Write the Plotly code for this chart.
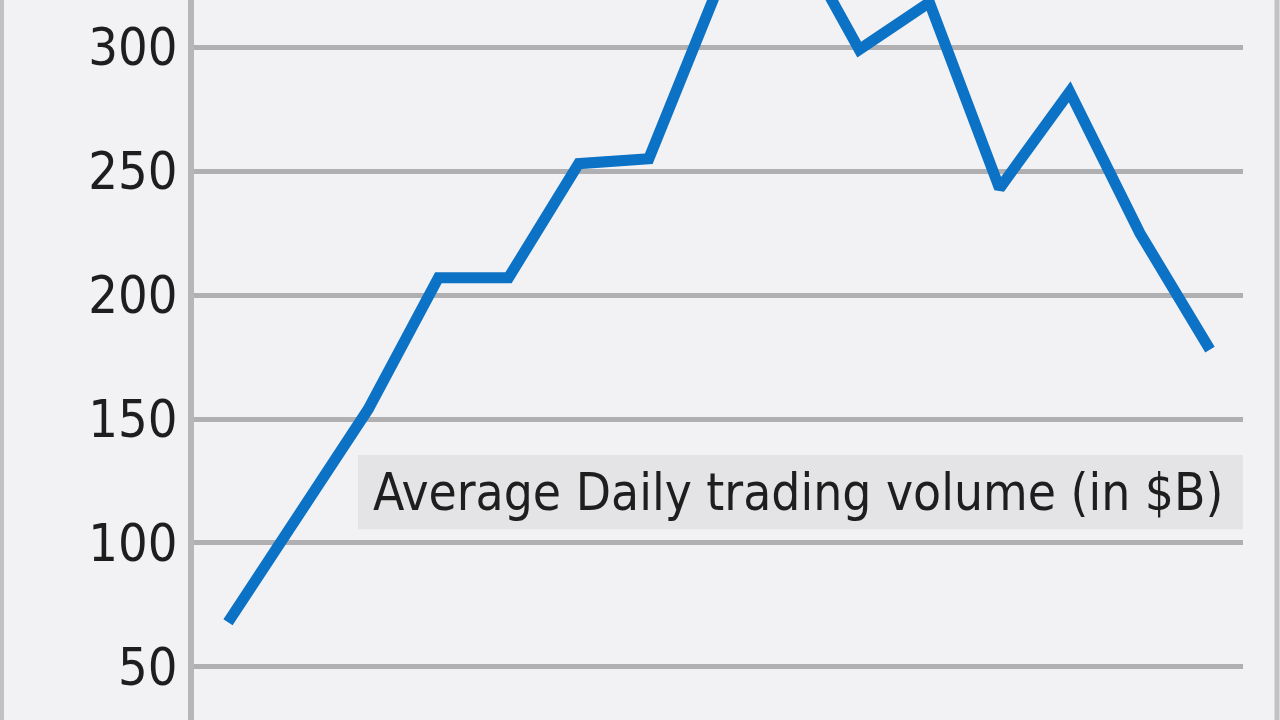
import plotly.graph_objects as go

# ── data ────────────────────────────────────────────────────
periods = list(range(15))
volume = [68, 112, 154, 207, 207, 253, 255, 325, 350, 299, 318, 243, 282, 225, 178]
y_ticks = [50, 100, 150, 200, 250, 300]
label_text = "Average Daily trading volume (in $B)"

BG = "#f2f2f4"
GRID = "#b0b0b2"
BLUE = "#0b72c5"
FONT = "Liberation Sans Narrow, Arial Narrow, DejaVu Sans Condensed, sans-serif"

# plot area in pixels: left 194, right 1243
L, R = 194, 1243
x0_px, dx_px = 228, 70.14
x_range = [(L - x0_px) / dx_px, (R - x0_px) / dx_px]
y_range = [28.6, 319.0]


def px_to_x(px):
    return (px - x0_px) / dx_px


fig = go.Figure()
fig.add_trace(go.Scatter(
    x=periods, y=volume, mode="lines",
    line=dict(color=BLUE, width=11),
    hoverinfo="skip", showlegend=False,
))

# label box behind the caption
fig.add_shape(type="rect", xref="x", yref="y",
              x0=px_to_x(358), x1=x_range[1], y0=105.5, y1=135.5,
              fillcolor="#e4e4e6", line_width=0, layer="below")
fig.add_annotation(
    x=px_to_x(798), xref="x", y=120.5, yref="y",
    text=label_text, showarrow=False,
    font=dict(family=FONT, size=51, color="#1e1e1e"),
)

# outer frame lines (left and right edges of the picture)
w = R - L
for px, lw in [(2, 4), (1277, 5)]:
    fig.add_shape(type="line", xref="paper", yref="paper",
                  x0=(px - L) / w, x1=(px - L) / w, y0=-0.01, y1=1.01,
                  line=dict(color="#c2c2c4", width=lw))

fig.update_layout(
    width=1280, height=720,
    margin=dict(l=L, r=1280 - R, t=0, b=0),
    paper_bgcolor=BG, plot_bgcolor=BG,
    xaxis=dict(range=x_range, visible=False, fixedrange=True),
    yaxis=dict(
        range=y_range, tickvals=y_ticks,
        showgrid=True, gridcolor=GRID, gridwidth=5,
        zeroline=False,
        showline=True, linecolor="#b6b6b8", linewidth=6,
        ticks="", ticklabelstandoff=0,
        tickfont=dict(family=FONT, size=52, color="#1e1e1e"),
        fixedrange=True,
    ),
)

fig.write_html("out.html", config={"displayModeBar": False},
               post_script="document.body.style.margin='0';")
